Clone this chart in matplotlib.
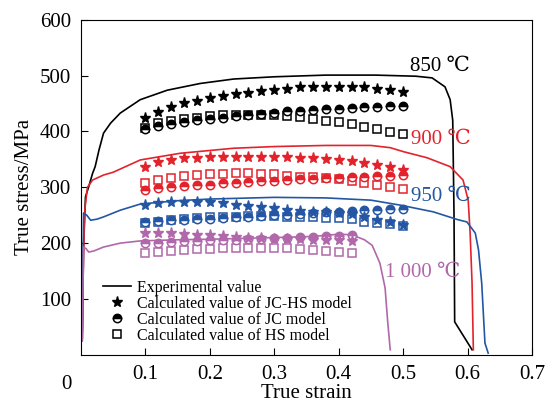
import matplotlib
matplotlib.use("Agg")
import matplotlib.pyplot as plt
from matplotlib.lines import Line2D

plt.rcParams['font.family'] = ['Liberation Serif', 'DejaVu Serif']
plt.rcParams['mathtext.fontset'] = 'stix'

RED = '#e3232c'
BLUE = '#2456a4'
PURPLE = '#b068ab'

# experimental curves
strain_850 = [0.0, 0.002, 0.004, 0.007, 0.012, 0.018, 0.022, 0.028, 0.035, 0.046, 0.061, 0.092, 0.134,
              0.185, 0.237, 0.30, 0.38, 0.457, 0.52, 0.545, 0.565, 0.573, 0.577, 0.579, 0.58, 0.607]
stress_850 = [25, 25, 200, 283, 301, 325, 337, 367, 397, 415, 433, 457, 474,
              486, 494, 498, 501, 501, 499, 496, 480, 457, 420, 250, 59, 9]

strain_900 = [0.0, 0.002, 0.004, 0.006, 0.010, 0.018, 0.035, 0.05, 0.092, 0.154, 0.237, 0.30, 0.38,
              0.45, 0.48, 0.50, 0.537, 0.573, 0.593, 0.601, 0.604, 0.607, 0.609]
stress_900 = [40, 40, 180, 260, 300, 313, 322, 327, 349, 361, 370, 373, 375,
              375, 371, 364, 353, 337, 313, 277, 218, 128, 9]

strain_950 = [0.0, 0.002, 0.004, 0.009, 0.015, 0.025, 0.035, 0.061, 0.092, 0.15, 0.2, 0.3, 0.38,
              0.45, 0.496, 0.547, 0.585, 0.599, 0.612, 0.617, 0.622, 0.627, 0.632]
stress_950 = [30, 30, 254, 250, 241, 243, 247, 259, 270, 276, 279, 282, 281,
              277, 268, 256, 242, 238, 218, 188, 128, 21, 3]

strain_1000 = [0.0, 0.002, 0.004, 0.008, 0.012, 0.02, 0.035, 0.061, 0.092, 0.15, 0.2, 0.3, 0.36,
               0.40, 0.42, 0.44, 0.452, 0.464, 0.472, 0.476, 0.48]
stress_1000 = [25, 25, 193, 190, 184, 186, 193, 200, 204, 206, 207, 210, 212,
               216, 215, 206, 196, 164, 120, 60, 9]

# calculated points
eps = [0.10, 0.12, 0.14, 0.16, 0.18, 0.20, 0.22, 0.24, 0.26, 0.28, 0.30,
       0.32, 0.34, 0.36, 0.38, 0.40, 0.42, 0.44, 0.46, 0.48, 0.50]
eps_1000 = eps[:17]

jchs_850 = [424, 435, 444, 451, 455, 460, 463, 467, 469, 472, 474, 477, 479, 480, 480, 480, 480, 479, 477, 474, 471]
jc_850 = [405, 410, 414, 417, 420, 423, 425, 428, 430, 432, 434, 436, 437, 439, 440, 441, 442, 443, 444, 445, 446]
hs_850 = [406, 415, 419, 422, 424, 427, 429, 430, 430, 430, 430, 428, 426, 422, 419, 417, 413, 408, 404, 399, 395]

jchs_900 = [336, 345, 349, 352, 353, 354, 354, 355, 355, 354, 354, 354, 353, 352, 351, 349, 347, 344, 340, 336, 331]
jc_900 = [295, 298, 300, 302, 304, 305, 307, 308, 310, 311, 312, 313, 314, 315, 316, 317, 318, 319, 320, 321, 322]
hs_900 = [307, 313, 316, 320, 322, 323, 324, 325, 325, 324, 323, 321, 319, 318, 317, 315, 312, 307, 304, 300, 297]

jchs_950 = [268, 272, 273, 274, 274, 273, 272, 269, 266, 265, 263, 260, 258, 256, 255, 254, 252, 247, 241, 237, 233]
jc_950 = [238, 239, 241, 242, 243, 244, 245, 246, 247, 249, 250, 251, 253, 254, 255, 256, 258, 259, 260, 261, 262]
hs_950 = [236, 238, 241, 243, 245, 246, 247, 247, 248, 248, 248, 247, 246, 246, 245, 245, 243, 238, 236, 234, 231]

jchs_1000 = [218, 218, 218, 217, 215, 214, 212, 211, 210, 209, 208, 207, 207, 206, 205, 205, 204]
jc_1000 = [200, 201, 202, 203, 204, 205, 205, 206, 207, 208, 209, 210, 211, 211, 212, 213, 214]
hs_1000 = [182, 184, 186, 188, 189, 190, 191, 191, 192, 192, 192, 191, 190, 188, 186, 184, 182]

fig = plt.figure(figsize=(5.49, 4.05), dpi=100)
ax = fig.add_axes([0.1475, 0.124, 0.8215, 0.827])

curves = [(strain_850, stress_850, 'black'), (strain_900, stress_900, RED),
          (strain_950, stress_950, BLUE), (strain_1000, stress_1000, PURPLE)]
for x, y, c in curves:
    ax.plot(x, y, color=c, lw=1.2)

points = [(eps, jchs_850, jc_850, hs_850, 'black'),
          (eps, jchs_900, jc_900, hs_900, RED),
          (eps, jchs_950, jc_950, hs_950, BLUE),
          (eps_1000, jchs_1000, jc_1000, hs_1000, PURPLE)]
for x, a, b, h, c in points:
    ax.plot(x, h, ls='none', marker='s', ms=5.5, mfc='white', mec=c, mew=1.1)
    ax.plot(x, b, ls='none', marker='o', ms=6, fillstyle='top', mfc=c,
            markerfacecoloralt='white', mec=c, mew=1.1)
    ax.plot(x, a, ls='none', marker='*', ms=8, color=c)

ax.set_xlim(0, 0.7)
ax.set_ylim(0, 600)
ax.set_xticks([0.1, 0.2, 0.3, 0.4, 0.5, 0.6, 0.7])
ax.set_xticklabels(['0.1', '0.2', '0.3', '0.4', '0.5', '0.6', '0.7'])
ax.set_yticks([100, 200, 300, 400, 500, 600])
ax.tick_params(direction='in', length=5, labelsize=15, pad=7)
ax.text(-0.02, -0.06, '0', transform=ax.transAxes, fontsize=15, ha='right', va='top')
ax.set_xlabel('True strain', fontsize=15, labelpad=0)
ax.set_ylabel('True stress/MPa', fontsize=15, labelpad=4)

fam = ['Liberation Serif', 'DejaVu Serif']
ax.text(0.511, 517, '850 ℃', fontsize=15, color='black', va='center', family=fam)
ax.text(0.512, 385, '900 ℃', fontsize=15, color=RED, va='center', family=fam)
ax.text(0.513, 283, '950 ℃', fontsize=15, color=BLUE, va='center', family=fam)
ax.text(0.472, 147, '1 000 ℃', fontsize=15, color=PURPLE, va='center', family=fam)

handles = [Line2D([], [], color='black', lw=1.2),
           Line2D([], [], ls='none', marker='*', ms=8, color='black'),
           Line2D([], [], ls='none', marker='o', ms=6, fillstyle='top', mfc='black',
                  markerfacecoloralt='white', mec='black', mew=1.1),
           Line2D([], [], ls='none', marker='s', ms=5.5, mfc='white', mec='black', mew=1.1)]
labels = ['Experimental value', 'Calculated value of JC-HS model',
          'Calculated value of JC model', 'Calculated value of HS model']
ax.legend(handles, labels, loc='lower left', bbox_to_anchor=(0.025, 0.0), frameon=False,
          fontsize=11.5, handlelength=1.7, handletextpad=0.4, labelspacing=0.0, borderpad=0.2)

fig.savefig('out.png', dpi=100)
